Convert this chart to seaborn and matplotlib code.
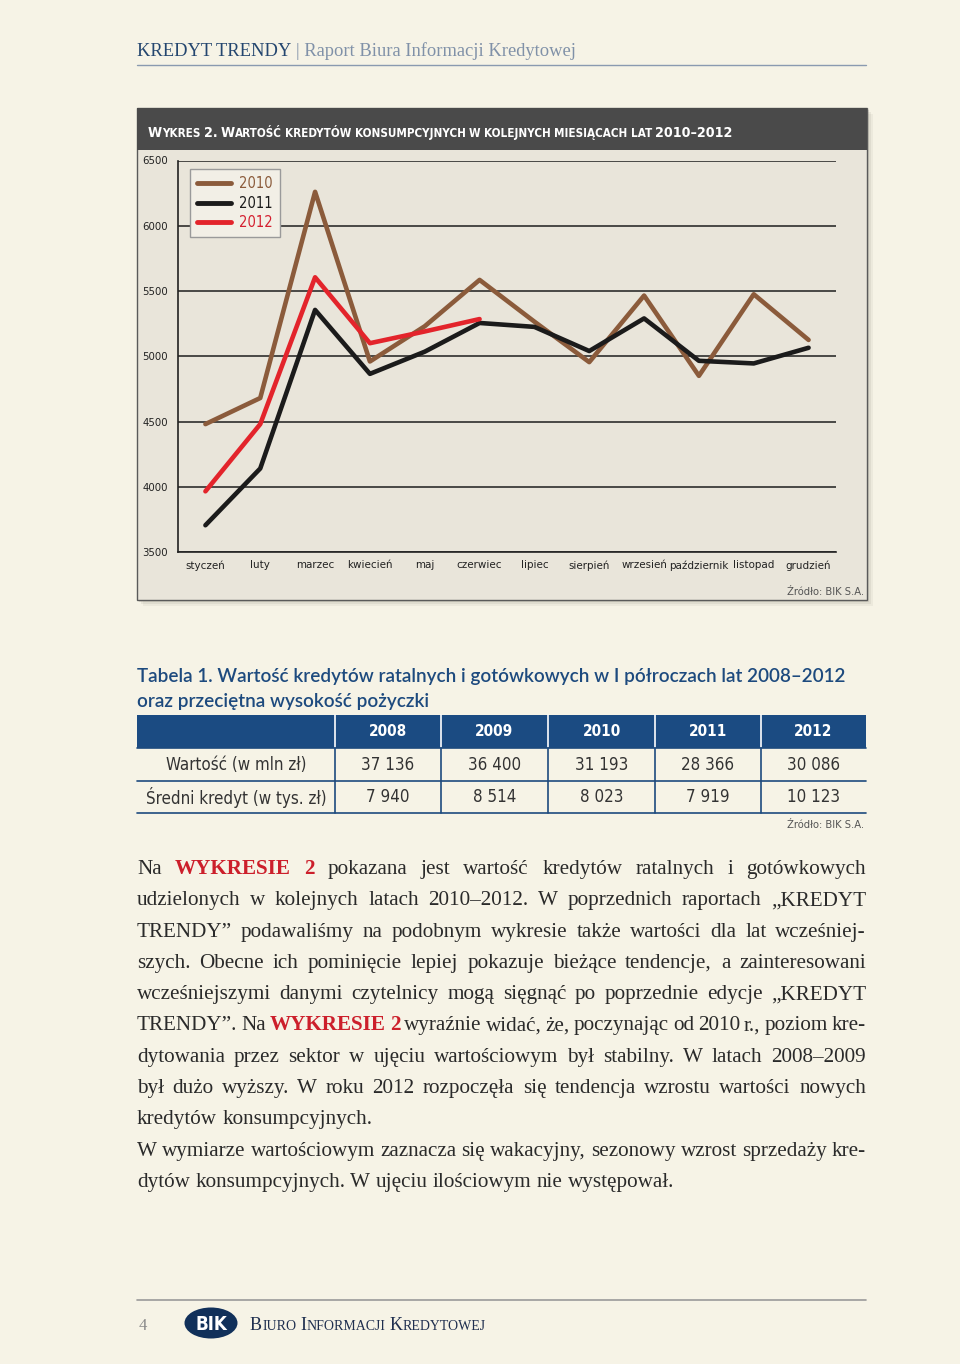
import numpy as np
import pandas as pd
import matplotlib
matplotlib.use('Agg')
import matplotlib.pyplot as plt
from matplotlib import font_manager
from matplotlib.patches import Rectangle, Ellipse
from matplotlib.lines import Line2D
import seaborn as sns

# chart data
months = ['styczeń', 'luty', 'marzec', 'kwiecień', 'maj', 'czerwiec',
          'lipiec', 'sierpień', 'wrzesień', 'październik', 'listopad', 'grudzień']
years = ['2010', '2011', '2012']
v2010 = [4480, 4680, 6260, 4960, 5230, 5585, 5265, 4955, 5465, 4850, 5475, 5125]
v2011 = [3705, 4140, 5355, 4865, 5035, 5255, 5225, 5040, 5290, 4965, 4945, 5065]
v2012 = [3965, 4480, 5605, 5100, 5190, 5285, None, None, None, None, None, None]
yticks = [3500, 4000, 4500, 5000, 5500, 6000, 6500]

# table data
table_years = ['2008', '2009', '2010', '2011', '2012']
row_labels = ['Wartość (w mln zł)', 'Średni kredyt (w tys. zł)']
row_value = ['37 136', '36 400', '31 193', '28 366', '30 086']
row_avg = ['7 940', '8 514', '8 023', '7 919', '10 123']

# body text, "!" marks red words, flag = last line of paragraph
body_lines = [
    ("Na !WYKRESIE !2 pokazana jest wartość kredytów ratalnych i gotówkowych", False),
    ("udzielonych w kolejnych latach 2010–2012. W poprzednich raportach „KREDYT", False),
    ("TRENDY” podawaliśmy na podobnym wykresie także wartości dla lat wcześniej-", False),
    ("szych. Obecne ich pominięcie lepiej pokazuje bieżące tendencje, a zainteresowani", False),
    ("wcześniejszymi danymi czytelnicy mogą sięgnąć po poprzednie edycje „KREDYT", False),
    ("TRENDY”. Na !WYKRESIE !2 wyraźnie widać, że, poczynając od 2010 r., poziom kre-", False),
    ("dytowania przez sektor w ujęciu wartościowym był stabilny. W latach 2008–2009", False),
    ("był dużo wyższy. W roku 2012 rozpoczęła się tendencja wzrostu wartości nowych", False),
    ("kredytów konsumpcyjnych.", True),
    ("W wymiarze wartościowym zaznacza się wakacyjny, sezonowy wzrost sprzedaży kre-", False),
    ("dytów konsumpcyjnych. W ujęciu ilościowym nie występował.", True),
]

BG = '#f6f3e6'
BOX = '#e9e5da'
NAVY = '#1d4a7e'
RED = '#cc1f2b'
pal = {'2010': '#8b5b3b', '2011': '#1b1b1b', '2012': '#e3242b'}

# look for a condensed sans, the original uses one
names = {f.name for f in font_manager.fontManager.ttflist}
cond = [f for f in font_manager.fontManager.ttflist
        if f.style == 'normal' and ('Narrow' in f.name or 'Condensed' in f.name
                                    or f.stretch in ('condensed', 'semi-condensed'))]
if cond:
    NARROW = cond[0].name
    STRETCH = cond[0].stretch if cond[0].stretch in ('condensed', 'semi-condensed') else 'normal'
    HAVE_NARROW = True
else:
    NARROW = 'Roboto' if 'Roboto' in names else 'DejaVu Sans'
    STRETCH = 'normal'
    HAVE_NARROW = False
SERIF = 'Liberation Serif' if 'Liberation Serif' in names else 'DejaVu Serif'
SANS = 'Lato' if 'Lato' in names else 'DejaVu Sans'
NK = dict(family=NARROW, fontstretch=STRETCH)

sns.set_style('white')
plt.rcParams['font.family'] = [NARROW, 'DejaVu Sans']
plt.rcParams['font.stretch'] = STRETCH

fig = plt.figure(figsize=(9.6, 13.64), dpi=100)
fig.patch.set_facecolor(BG)
R = fig.canvas.get_renderer()

# page axes in pixel coordinates
page = fig.add_axes([0, 0, 1, 1], zorder=0)
page.set_xlim(0, 960)
page.set_ylim(1364, 0)
page.axis('off')

X0, X1 = 137, 866


def width(t):
    return t.get_window_extent(R).width


def fit(t, w):
    t.set_fontsize(t.get_fontsize() * w / width(t))
    return t


def space_w(size, **kw):
    a = page.text(0, 0, 'n n', fontsize=size, **kw)
    b = page.text(0, 0, 'nn', fontsize=size, **kw)
    w = width(a) - width(b)
    a.remove()
    b.remove()
    return w


def small_caps(x, y, s, big, small, color, target=None, track=0.6, **kw):
    # draw once, measure, then rescale to the target width if given
    def draw(big, small):
        xx = x
        out = []
        sp = space_w(small, **kw)
        for i, word in enumerate(s.split(' ')):
            if i:
                xx += sp
            groups = []
            for ch in word:
                low = ch.islower()
                if groups and groups[-1][1] == low:
                    groups[-1][0] += ch
                else:
                    groups.append([ch, low])
            for g, low in groups:
                t = page.text(xx, y, g.upper() if low else g,
                              fontsize=small if low else big, color=color,
                              ha='left', va='baseline', **kw)
                out.append(t)
                xx += width(t) + track
        return xx, out

    end, out = draw(big, small)
    if target is not None:
        k = target / (end - x)
        for t in out:
            t.remove()
        end, out = draw(big * k, small * k)
    return end


# header
t1 = page.text(X0, 56, 'KREDYT TRENDY', family=SERIF, fontsize=14, color='#24466f',
               va='baseline')
t2 = page.text(X0, 56, '| Raport Biura Informacji Kredytowej', family=SERIF, fontsize=14,
               color='#8091a8', va='baseline')
k = (579 - X0 - 5) / (width(t1) + width(t2))
t1.set_fontsize(14 * k)
t2.set_fontsize(14 * k)
t2.set_x(X0 + width(t1) + 5)
page.plot([X0, X1], [65, 65], color='#8a9ab0', lw=1)

# chart box with shadow and title bar
for d, a in [(6, 0.10), (4, 0.15), (2, 0.25)]:
    page.add_patch(Rectangle((X0 + d, 108 + d), 730, 492, fc='#9a968a', ec='none', alpha=a))
page.add_patch(Rectangle((X0, 108), 730, 492, fc=BOX, ec='#5a5a5a', lw=1))
page.add_patch(Rectangle((X0, 108), 730, 42, fc='#4a4a4a', ec='none'))
small_caps(148, 137, 'Wykres 2. Wartość kredytów konsumpcyjnych w kolejnych miesiącach lat 2010–2012',
           14, 11.5, 'white', target=590, track=-0.2, fontweight='semibold', **NK)
page.text(864, 592, 'Źródło: BIK S.A.', fontsize=8 if HAVE_NARROW else 7, color='#555555',
          ha='right', va='center', **NK)

# line chart
df = pd.DataFrame({'month': months * 3,
                   'year': np.repeat(years, len(months)),
                   'value': v2010 + v2011 + v2012}).dropna()

ax = fig.add_axes([178 / 960, 1 - 552 / 1364, 658 / 960, 391.5 / 1364], zorder=2)
ax.set_facecolor('none')
sns.lineplot(data=df, x='month', y='value', hue='year', palette=pal, sort=False,
             linewidth=3.3, legend=False, ax=ax)
ax.set_xlim(-0.5, len(months) - 0.5)
ax.set_ylim(yticks[0], yticks[-1])
ax.set_yticks(yticks)
ax.set_xticks(range(len(months)))
ax.set_xticklabels(months)
ax.set_xticks(np.arange(0.5, len(months), 1), minor=True)
ax.yaxis.grid(True, color='#1e1e1e', lw=1.1)
ax.set_axisbelow(True)
ax.set_xlabel('')
ax.set_ylabel('')
for s in ['top', 'right']:
    ax.spines[s].set_visible(False)
for s in ['left', 'bottom']:
    ax.spines[s].set_color('#222222')
    ax.spines[s].set_linewidth(1.2)
ax.tick_params(axis='x', which='major', length=0, pad=6, labelsize=10.5, labelcolor='#222222')
ax.tick_params(axis='x', which='minor', direction='in', length=9, width=1.2, color='#222222')
ax.tick_params(axis='y', length=0, pad=7, labelsize=10.5, labelcolor='#222222')

# size tick labels close to the widths seen in the reference
xl = ax.get_xticklabels()
widest = max(width(t) for t in xl)
ax.tick_params(axis='x', which='major', labelsize=10.5 * min(1.0, 60 / widest))
yl = ax.get_yticklabels()
ax.tick_params(axis='y', labelsize=10.5 * min(1.0, 26 / max(width(t) for t in yl)))

handles = [Line2D([], [], color=pal[y], lw=3.5) for y in years]
leg = ax.legend(handles, years, loc='upper left', bbox_to_anchor=(0.018, 0.978),
                borderaxespad=0, frameon=True, fancybox=False, framealpha=1,
                facecolor='#f2efe6', edgecolor='#9a9a9a',
                fontsize=10.5 if HAVE_NARROW else 10,
                handlelength=2.3, handletextpad=0.6, labelspacing=0.3,
                borderpad=0.5)
leg.get_frame().set_linewidth(1)
for txt, y in zip(leg.get_texts(), years):
    txt.set_color(pal[y] if y != '2012' else '#d42030')

# table title
tt1 = page.text(X0, 682, 'Tabela 1. Wartość kredytów ratalnych i gotówkowych w I półroczach lat 2008–2012',
                family=SANS, fontsize=14, fontweight='semibold', color=NAVY, va='baseline')
fit(tt1, 848 - X0)
page.text(X0, 707, 'oraz przeciętna wysokość pożyczki', family=SANS, fontsize=tt1.get_fontsize(),
          fontweight='semibold', color=NAVY, va='baseline')

# table
cols = [137, 335, 441, 548, 655, 761, 866]
rows = [715, 748, 781, 813]
page.add_patch(Rectangle((cols[0], rows[0]), cols[-1] - cols[0], rows[1] - rows[0],
                         fc='#1b4b82', ec='none'))
for c in cols[1:-1]:
    page.plot([c, c], [rows[0], rows[1]], color='white', lw=1.2)
    page.plot([c, c], [rows[1], rows[3]], color=NAVY, lw=1.2)
for r in rows[1:]:
    page.plot([cols[0], cols[-1]], [r, r], color=NAVY, lw=1.2)

centers = [(cols[i] + cols[i + 1]) / 2 for i in range(len(cols) - 1)]
rmid = [(rows[i] + rows[i + 1]) / 2 for i in range(len(rows) - 1)]
hd = []
for cx, yr in zip(centers[1:], table_years):
    hd.append(page.text(cx, rmid[0], yr, fontsize=13, fontweight='semibold',
                        color='white', ha='center', va='center', **NK))
hs = 13 * min(1.0, 38 / width(hd[0]))
for t in hd:
    t.set_fontsize(hs)

cells = []
labs = []
for ri, (lab, vals) in enumerate(zip(row_labels, [row_value, row_avg])):
    labs.append(page.text(centers[0], rmid[ri + 1], lab, fontsize=13,
                          color='#333333', ha='center', va='center', **NK))
    for cx, v in zip(centers[1:], vals):
        cells.append(page.text(cx, rmid[ri + 1], v, fontsize=13,
                               color='#333333', ha='center', va='center', **NK))
cs = 13 * min(1.0, 181 / width(labs[1]))
for t in labs + cells:
    t.set_fontsize(cs)
page.text(864, 825, 'Źródło: BIK S.A.', fontsize=8 if HAVE_NARROW else 7, color='#555555',
          ha='right', va='center', **NK)


# body text, justified
def measure_words(tokens, size):
    ws = []
    for w, red in tokens:
        t = page.text(0, 0, w, family=SERIF, fontsize=size,
                      fontweight='bold' if red else 'normal')
        ws.append(width(t))
        t.remove()
    return ws


parsed = []
for line, last in body_lines:
    toks = []
    for w in line.split():
        toks.append((w[1:], True) if w.startswith('!') else (w, False))
    parsed.append((toks, last))

base = 15.5
sp0 = space_w(base, family=SERIF)
nat = max(sum(measure_words(t, base)) + sp0 * (len(t) - 1) * 0.75 for t, _ in parsed)
size = min(base, base * (X1 - X0) / nat)
sp = space_w(size, family=SERIF)

y = 874
for toks, last in parsed:
    ws = measure_words(toks, size)
    gap = sp if last else (X1 - X0 - sum(ws)) / (len(toks) - 1)
    x = X0
    for (w, red), wd in zip(toks, ws):
        page.text(x, y, w, family=SERIF, fontsize=size, color=RED if red else '#2a2a2a',
                  fontweight='bold' if red else 'normal', va='baseline', ha='left')
        x += wd + gap
    y += 31.3

# footer
page.plot([X0, X1], [1300, 1300], color='#9a9a9a', lw=1.2)
page.text(139, 1330, '4', family=SERIF, fontsize=12, color='#888888', va='baseline')
page.add_patch(Ellipse((211, 1323), 53, 31, fc='#11305a', ec='none'))
page.text(211, 1324, 'BIK', family='DejaVu Sans', fontsize=13.5, fontweight='bold',
          color='white', ha='center', va='center')
small_caps(250, 1330, 'Biuro Informacji Kredytowej', 13, 10, '#1f2f4f', target=235,
           track=0.3, family=SERIF)

fig.savefig('out.png', dpi=100, facecolor=BG)
